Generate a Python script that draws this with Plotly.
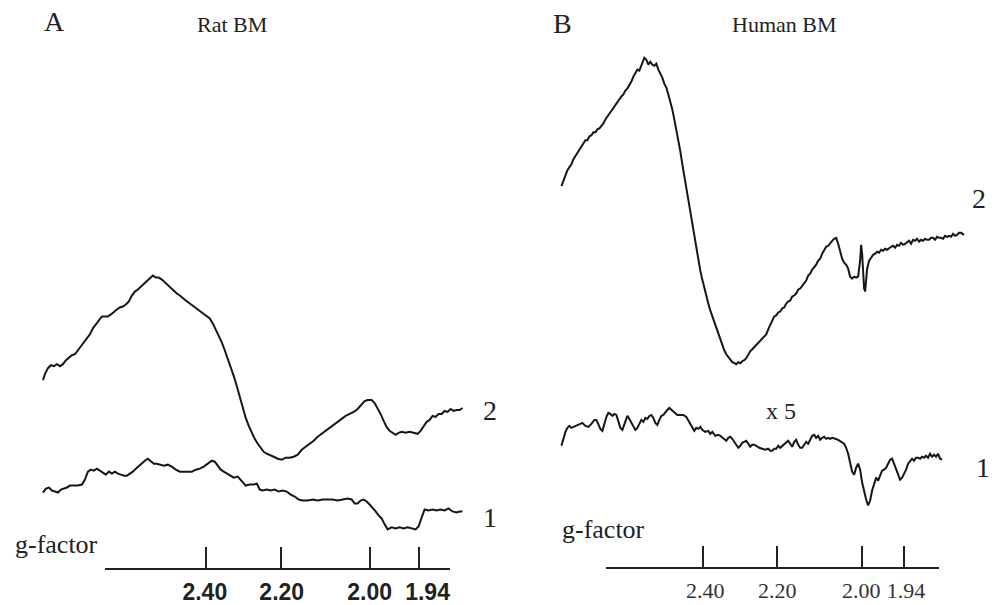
import plotly.graph_objects as go

# ---------------- data (field in arbitrary units, intensity in arbitrary units) -------------
# Panel A - Rat BM
rat2_field = [43,45,48,51,54,57,60,63,66,69,72,75,78,81,84,87,90,93,96,99,102,105,108,111,114,117,120,123,126,129,
              132,135,138,141,144,147,150,153,156,159,162,165,168,171,174,177,180,183,186,190,194,198,202,206,210,213,
              216,219,222,225,228,231,234,237,240,243,246,249,252,255,258,261,264,267,270,274,278,282,286,290,294,298,
              302,306,310,314,318,322,326,330,334,338,342,346,350,354,358,362,365,368,372,375,378,381,384,387,390,393,
              396,399,402,406,410,414,418,421,424,427,430,433,436,439,442,445,448,451,454,457,460,463]
rat2_int = [218,224,230,233,232,234,232,234,238,241,243,244,248,252,256,259,264,270,274,279,282,282,282,284,287,289,291,292,294,297,
            303,307,309,312,315,317,321,323,321,321,319,316,313,311,307,305,303,300,298,295,292,289,286,283,280,275,
            269,263,256,248,240,231,222,212,201,189,180,172,165,159,154,150,146,144,143,141,139,138,140,140,141,143,
            148,151,154,157,161,164,167,170,173,176,179,182,184,186,189,194,197,198,198,195,190,184,177,171,167,165,
            163,165,166,165,166,165,164,167,172,176,178,182,181,184,184,187,186,189,187,188,188,190]

rat1_field = [43,46,49,52,55,58,61,64,67,70,74,78,82,85,88,91,94,97,100,103,106,109,112,115,118,121,124,127,130,133,
              136,139,142,145,148,151,154,157,160,164,168,172,176,180,184,188,192,196,200,204,208,212,215,218,221,224,
              227,230,234,238,242,246,250,254,257,260,263,267,271,275,279,283,287,291,295,299,303,308,313,318,323,328,
              333,338,343,348,352,355,358,361,364,367,370,373,376,379,382,385,388,392,396,400,404,408,412,416,419,422,
              425,429,433,437,441,445,449,453,457,460,463]
rat1_int = [105,109,110,107,106,105,108,109,110,112,112,112,113,118,126,128,127,129,127,125,123,126,124,126,124,123,122,122,124,126,
            129,132,135,137,139,136,134,134,133,132,133,131,128,126,126,126,126,128,129,131,134,137,136,132,128,126,
            124,122,120,121,116,112,113,113,114,108,107,108,107,108,106,107,106,103,101,98,97,97,98,97,98,98,
            98,97,98,99,98,94,94,97,98,96,93,90,86,82,79,73,68,70,69,70,69,70,69,68,71,80,
            88,87,88,87,88,87,89,86,85,86,86]

# Panel B - Human BM
hum2_field = [62,64,66,68,70,72,74,76,78,80,82,84,86,88,90,92,94,96,98,100,102,104,106,108,110,112,114,116,118,120,
              122,124,126,128,130,132,134,136,138,140,142,144,145,147,149,151,153,155,157,159,161,163,165,167,169,171,
              173,175,177,179,181,183,185,187,189,191,193,195,197,199,201,203,205,207,209,211,213,215,217,219,221,223,
              225,227,229,231,233,235,237,239,241,243,245,247,249,251,253,255,257,259,261,263,265,267,269,271,273,275,
              277,279,281,283,285,287,289,291,293,295,297,299,301,303,305,307,309,311,313,315,317,319,321,323,325,327,
              329,331,333,335,337,339,341,343,345,347,349,351,353,355,357,359,361,362,363,364,365,366,367,368,370,372,
              374,376,378,380,382,384,386,388,390,392,394,396,398,400,402,404,406,408,410,412,414,416,418,420,422,424,
              426,428,430,432,434,436,438,440,442,444,446,448,450,452,454,456,458,460,462,465]
hum2_int = [413,419,424,429,432,435,440,443,447,450,453,456,459,459,463,464,467,467,470,471,473,476,480,483,486,489,492,494,498,500,
            503,505,509,511,514,518,523,526,530,529,534,538,542,540,535,538,535,534,536,530,526,522,516,512,505,498,
            490,480,470,460,448,435,423,410,397,385,373,360,348,338,328,319,310,302,295,288,282,276,270,264,258,253,
            248,244,241,238,236,235,234,236,235,237,238,240,244,247,249,251,253,255,258,259,262,264,269,273,278,282,
            283,286,287,290,291,295,297,298,302,303,305,309,310,313,316,318,323,325,329,331,334,338,340,345,348,352,
            353,356,358,360,361,355,347,340,336,334,330,322,320,322,321,322,338,354,345,325,310,307,318,330,338,341,
            344,345,347,346,349,348,350,349,351,352,353,351,354,353,356,354,355,357,358,355,359,358,360,357,359,358,
            360,359,359,361,361,359,362,361,361,360,363,362,363,362,365,363,364,366,366,364,367,365]

hum1_field = [62,64,66,68,70,72,74,77,80,83,86,89,92,95,97,99,101,103,105,107,109,111,113,115,117,119,121,123,125,127,
              128,130,133,136,138,140,142,144,146,148,150,152,154,156,158,160,162,164,166,168,170,172,175,178,181,184,
              187,190,193,195,197,199,201,203,206,209,211,213,216,219,221,223,225,227,229,231,233,235,237,239,241,243,
              245,247,249,251,253,255,257,260,263,266,269,271,273,275,277,279,281,283,285,287,289,291,293,295,297,299,
              301,303,305,307,309,311,313,315,317,319,321,323,325,327,329,331,333,336,339,342,345,347,349,351,353,355,
              357,359,361,363,365,367,369,371,373,375,377,379,381,383,385,387,389,391,393,395,397,399,401,403,405,407,
              409,411,413,415,417,419,421,423,425,427,429,431,433,435,437,439,441,443]
hum1_int = [152,160,166,170,172,170,171,172,174,175,172,171,174,178,178,173,169,167,174,181,185,184,182,184,183,176,170,168,173,180,
            182,179,173,168,170,174,178,176,180,179,182,183,180,175,173,178,182,183,186,188,190,188,185,183,183,183,
            181,176,170,167,170,169,171,168,166,167,164,166,162,163,162,160,158,157,160,161,159,156,153,150,152,155,
            156,157,154,151,153,153,152,150,149,148,149,147,147,149,149,152,150,152,153,155,157,154,151,156,158,153,
            150,150,153,156,154,158,162,163,160,162,158,160,161,159,160,159,160,159,158,156,154,150,144,135,126,123,
            130,134,128,115,106,98,92,97,107,115,120,117,123,127,128,130,134,138,139,134,127,122,118,120,124,128,
            134,137,139,137,140,140,139,141,140,142,140,144,141,143,141,144,139,138]

# g-factor scales: tick marks and where their printed labels sit along the field
g_labels = ["2.40", "2.20", "2.00", "1.94"]
g_tick_field_A = [206, 281, 370, 419]
g_text_field_A = [205, 282, 370, 428]
g_tick_field_B = [204, 278, 363, 405]
g_text_field_B = [206, 278, 362, 407]

# ---------------- figure ----------------
W, H = 993, 605
LINE = "#161616"
SERIF = "Liberation Serif, Times New Roman, serif"
SANS = "Liberation Sans, Arial, sans-serif"

def px(s):
    return s / W

def py(s):
    return 1 - s / H

fig = go.Figure()
for fx, iy, xa, ya in [(rat2_field, rat2_int, "x", "y"), (rat1_field, rat1_int, "x", "y"),
                       (hum2_field, hum2_int, "x2", "y2"), (hum1_field, hum1_int, "x2", "y2")]:
    fig.add_trace(go.Scatter(x=fx, y=iy, mode="lines", xaxis=xa, yaxis=ya,
                             line=dict(color=LINE, width=2), showlegend=False, hoverinfo="skip"))
# carrier traces for the g-factor scales
for gx, xa, ya in [(g_tick_field_A, "x3", "y3"), (g_tick_field_B, "x4", "y4"),
                   (g_text_field_A, "x5", "y3"), (g_text_field_B, "x6", "y4")]:
    fig.add_trace(go.Scatter(x=gx, y=[None] * len(gx), mode="lines", xaxis=xa, yaxis=ya,
                             showlegend=False, hoverinfo="skip"))

hidden = dict(visible=False, showgrid=False, zeroline=False, fixedrange=True)

def tick_axis(dom, rng, vals, anchor):
    return dict(domain=dom, range=rng, anchor=anchor, tickmode="array", tickvals=vals,
                showticklabels=False, ticks="inside", ticklen=21, tickwidth=1.6, tickcolor="#222",
                showline=True, linecolor="#222", linewidth=2, showgrid=False, zeroline=False,
                fixedrange=True)

def label_axis(dom, rng, vals, font, anchor):
    return dict(domain=dom, range=rng, anchor=anchor, tickmode="array", tickvals=vals, ticktext=g_labels,
                ticks="", showline=False, showgrid=False, zeroline=False, tickangle=0,
                tickfont=font, ticklabelstandoff=8, fixedrange=True)

fontA = dict(family=SANS, size=23, color="#222", weight="bold")
fontB = dict(family=SERIF, size=22, color="#333")

fig.update_layout(
    width=W, height=H, margin=dict(l=0, r=0, t=0, b=0),
    paper_bgcolor="white", plot_bgcolor="rgba(0,0,0,0)",
    xaxis=dict(domain=[0, 0.5], range=[0, 496.5], anchor="y", **hidden),
    yaxis=dict(domain=[0, 1], range=[-5, 600], anchor="x", **hidden),
    xaxis2=dict(domain=[0.5, 1], range=[-3.5, 493], anchor="y2", **hidden),
    yaxis2=dict(domain=[0, 1], range=[-5, 600], anchor="x2", **hidden),
    xaxis3=tick_axis([px(105), px(450)], [105, 450], g_tick_field_A, "y3"),
    xaxis5=label_axis([px(105), px(450)], [105, 450], g_text_field_A, fontA, "y3"),
    yaxis3=dict(domain=[py(571), py(520)], range=[0, 1], anchor="x3", **hidden),
    xaxis4=tick_axis([px(607), px(940)], [107, 440], g_tick_field_B, "y4"),
    xaxis6=label_axis([px(607), px(940)], [107, 440], g_text_field_B, fontB, "y4"),
    yaxis4=dict(domain=[py(570), py(520)], range=[0, 1], anchor="x4", **hidden),
)

texts = [
    ("A", 55, 22, 28), ("Rat BM", 232, 25, 22),
    ("B", 563, 24, 28), ("Human BM", 785, 25, 22),
    ("g-factor", 57, 547, 26), ("g-factor", 604, 532, 26),
    ("2", 490, 413, 28), ("1", 490, 520, 28),
    ("2", 980, 199, 28), ("1", 984, 470, 28),
    ("x 5", 782, 413, 24),
]
for t, sx, sy, sz in texts:
    fig.add_annotation(text=t, x=px(sx), y=py(sy), xref="paper", yref="paper",
                       xanchor="center", yanchor="middle", showarrow=False,
                       font=dict(family=SERIF, size=sz, color="#222"))

fig.write_html("out.html", config={"displayModeBar": False},
               post_script="document.body.style.margin='0';document.body.style.overflow='hidden';")
